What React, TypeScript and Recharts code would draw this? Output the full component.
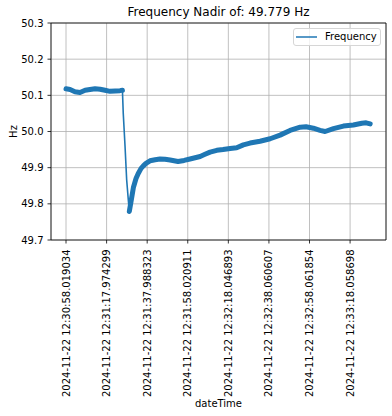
import React from 'react';
import { LineChart, Line, XAxis, YAxis, CartesianGrid, Legend, ReferenceLine, Label } from 'recharts';

// seconds since 2024-11-22 12:30:58.019034
const seconds = [
  0, 2.0, 4.4, 6.9, 9.4, 11.8, 14.3, 16.8, 19.2, 21.7, 24.2, 26.6, 27.8,
  28.2, 29.1, 29.9, 30.7, 31.2, 32.0, 33.2, 34.5, 35.6, 37.0, 38.1, 39.4,
  41.4, 43.9, 46.3, 48.8, 51.3, 55.2, 58.2, 61.1, 66.1, 68.5, 71.0, 74.3,
  77.4, 80.9, 84.1, 87.4, 90.7, 95.6, 100.6, 105.5, 110.4, 115.4, 118.3,
  121.9, 125.2, 127.7, 131.8, 136.7, 141.6, 145.8, 147.9, 149.9,
];
const frequency = [
  50.118, 50.116, 50.110, 50.108, 50.114, 50.116, 50.118, 50.117, 50.114, 50.111, 50.112, 50.113, 50.114,
  50.051, 49.958, 49.866, 49.811, 49.779, 49.805, 49.845, 49.870, 49.884, 49.898, 49.905, 49.912,
  49.919, 49.922, 49.924, 49.923, 49.921, 49.917, 49.920, 49.924, 49.931, 49.937, 49.943, 49.948,
  49.950, 49.953, 49.955, 49.963, 49.968, 49.973, 49.980, 49.990, 50.003, 50.012, 50.013,
  50.009, 50.003, 50.000, 50.008, 50.015, 50.018, 50.023, 50.024, 50.021,
];
const dropStart = 28;
const dropEnd = 31;

const xTickSeconds = [0, 20, 40, 60, 80, 100, 120, 140];
const xTickLabels = [
  '2024-11-22 12:30:58.019034',
  '2024-11-22 12:31:17.974299',
  '2024-11-22 12:31:37.988323',
  '2024-11-22 12:31:58.020911',
  '2024-11-22 12:32:18.046893',
  '2024-11-22 12:32:38.060607',
  '2024-11-22 12:32:58.061854',
  '2024-11-22 12:33:18.058698',
];
const yTicks = [49.7, 49.8, 49.9, 50.0, 50.1, 50.2, 50.3];
const title = 'Frequency Nadir of: 49.779 Hz';
const seriesName = 'Frequency';

const data = seconds.map((t, i) => ({
  t,
  f: frequency[i],
  band: t > dropStart && t < dropEnd ? null : frequency[i],
}));

const FONT = 'DejaVu Sans';
const BLUE = '#1f77b4';
const X_MIN = -7.4;
const X_MAX = 157.7;

const XTick = (props: any) => {
  const { x, y, payload, index } = props;
  const i = xTickSeconds.indexOf(payload.value);
  return (
    <text
      x={0}
      y={0}
      transform={`translate(${x},${y + 4}) rotate(-90)`}
      textAnchor="end"
      dominantBaseline="central"
      fontSize={10}
      fontFamily={FONT}
      fill="#000"
    >
      {xTickLabels[i >= 0 ? i : index]}
    </text>
  );
};

const LegendBox = () => (
  <div
    style={{
      boxSizing: 'border-box',
      width: 88,
      height: 18,
      border: '1px solid #d6d6d6',
      borderRadius: 3,
      background: 'rgba(255,255,255,0.8)',
      display: 'flex',
      alignItems: 'center',
      fontFamily: FONT,
      fontSize: 10,
      color: '#000',
    }}
  >
    <svg width={31} height={10} style={{ display: 'block' }}>
      <line x1={2} x2={23} y1={5} y2={5} stroke={BLUE} strokeWidth={1.5} />
    </svg>
    <span style={{ lineHeight: '12px' }}>{seriesName}</span>
  </div>
);

export default function App() {
  return (
    <div style={{ position: 'absolute', left: 0, top: 0, width: 392, height: 416, background: '#fff' }}>
      <div
        style={{
          position: 'absolute',
          left: 51,
          top: 5,
          width: 335,
          textAlign: 'center',
          fontFamily: FONT,
          fontSize: 12,
          lineHeight: '14px',
          color: '#000',
        }}
      >
        {title}
      </div>
      <LineChart
        width={392}
        height={416}
        data={data}
        margin={{ top: 23, right: 6, bottom: 0, left: 0 }}
        style={{ position: 'absolute', left: 0, top: 0 }}
      >
        <CartesianGrid stroke="#b0b0b0" strokeWidth={0.8} />
        <XAxis
          dataKey="t"
          type="number"
          domain={[X_MIN, X_MAX]}
          allowDataOverflow
          ticks={xTickSeconds}
          interval={0}
          height={176}
          tickSize={3.5}
          tickMargin={2}
          tick={<XTick />}
          tickLine={{ stroke: '#000', strokeWidth: 0.8 }}
          axisLine={{ stroke: '#000', strokeWidth: 0.8 }}
        >
          <Label
            value="dateTime"
            position="insideBottom"
            offset={9}
            style={{ fontFamily: FONT, fontSize: 10, fill: '#000' }}
          />
        </XAxis>
        <YAxis
          type="number"
          domain={[49.7, 50.3]}
          allowDataOverflow
          ticks={yTicks}
          interval={0}
          width={51}
          tickSize={3.5}
          tickMargin={4}
          tickFormatter={(v: number) => v.toFixed(1)}
          tick={{ fontFamily: FONT, fontSize: 10, fill: '#000' }}
          tickLine={{ stroke: '#000', strokeWidth: 0.8 }}
          axisLine={{ stroke: '#000', strokeWidth: 0.8 }}
        >
          <Label
            content={(p: any) => {
              const vb = p.viewBox || {};
              const cy = (vb.y ?? 23) + (vb.height ?? 217) / 2;
              return (
                <text
                  x={0}
                  y={0}
                  transform={`translate(13,${cy}) rotate(-90)`}
                  textAnchor="middle"
                  dominantBaseline="central"
                  fontFamily={FONT}
                  fontSize={10}
                  fill="#000"
                >
                  Hz
                </text>
              );
            }}
          />
        </YAxis>
        <ReferenceLine y={50.3} stroke="#000" strokeWidth={0.8} ifOverflow="extendDomain" />
        <ReferenceLine x={X_MAX} stroke="#000" strokeWidth={0.8} ifOverflow="extendDomain" />
        <Line
          dataKey="f"
          stroke={BLUE}
          strokeWidth={1.6}
          dot={false}
          isAnimationActive={false}
          strokeLinejoin="round"
          name={seriesName}
        />
        <Line
          dataKey="band"
          stroke={BLUE}
          strokeWidth={5}
          dot={false}
          isAnimationActive={false}
          strokeLinejoin="round"
          strokeLinecap="round"
          connectNulls={false}
          legendType="none"
        />
        <Legend
          layout="horizontal"
          verticalAlign="middle"
          align="center"
          wrapperStyle={{ left: 293, top: 28, width: 88, height: 18 }}
          content={() => <LegendBox />}
        />
      </LineChart>
    </div>
  );
}
